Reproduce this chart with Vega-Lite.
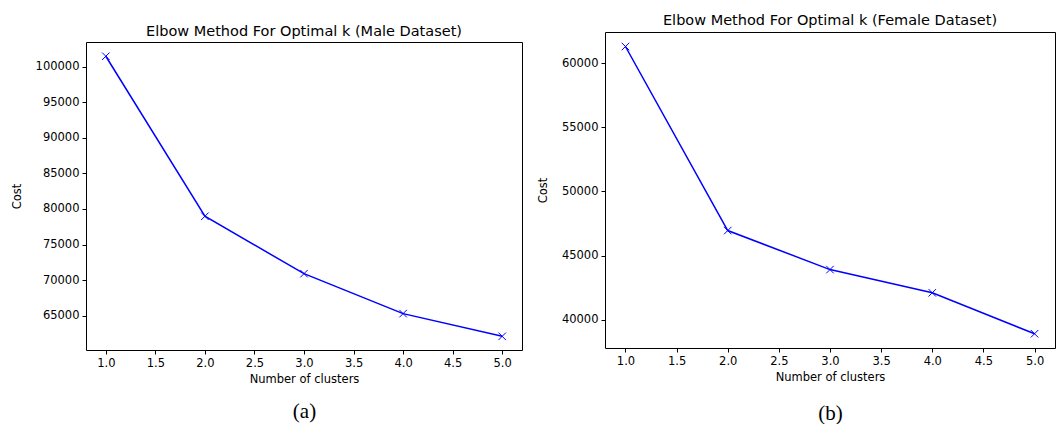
{
  "$schema": "https://vega.github.io/schema/vega-lite/v6.json",
  "padding": {"left": 11, "top": 12, "right": 0, "bottom": 0},
  "spacing": 14,
  "background": "white",
  "config": {
    "view": {"stroke": "#000000", "strokeWidth": 1},
    "axis": {
      "grid": false,
      "domain": false,
      "domainColor": "#000000",
      "domainWidth": 1,
      "labelFont": "DejaVu Sans",
      "labelFontSize": 11.5,
      "labelColor": "#000000",
      "titleFont": "DejaVu Sans",
      "titleFontSize": 11.5,
      "titleFontWeight": "normal",
      "titleColor": "#000000",
      "tickColor": "#000000",
      "tickSize": 4,
      "labelPadding": 3
    },
    "title": {
      "font": "DejaVu Sans",
      "fontSize": 14.5,
      "fontWeight": "normal",
      "color": "#000000",
      "anchor": "middle",
      "offset": 4
    }
  },
  "datasets": {
    "male": [
      {"k": 1, "cost": 101450},
      {"k": 2, "cost": 78980},
      {"k": 3, "cost": 70920},
      {"k": 4, "cost": 65310},
      {"k": 5, "cost": 62120}
    ],
    "female": [
      {"k": 1, "cost": 61290},
      {"k": 2, "cost": 46950},
      {"k": 3, "cost": 43910},
      {"k": 4, "cost": 42100},
      {"k": 5, "cost": 38910}
    ]
  },
  "hconcat": [
    {
      "width": 436,
      "height": 318,
      "view": {"stroke": null},
      "title": {"text": "Elbow Method For Optimal k (Male Dataset)", "offset": -7},
      "data": {"name": "male"},
      "layer": [
        {
          "mark": {"type": "line", "color": "#0000ff", "strokeWidth": 1.5},
          "encoding": {
            "x": {"field": "k", "type": "quantitative",
              "scale": {"domain": [0.8, 5.2], "nice": false, "zero": false},
              "axis": {"values": [1, 1.5, 2, 2.5, 3, 3.5, 4, 4.5, 5], "format": ".1f", "title": "Number of clusters", "titlePadding": 5, "domain": true}},
            "y": {"field": "cost", "type": "quantitative",
              "scale": {"domain": [60200, 103450], "range": [318, 10], "nice": false, "zero": false},
              "axis": {"values": [65000, 70000, 75000, 80000, 85000, 90000, 95000, 100000], "format": "d", "title": "Cost", "titlePadding": 13, "domain": true}}
          }
        },
        {
          "mark": {"type": "point", "shape": "M-1,-1L1,1M-1,1L1,-1", "filled": false, "stroke": "#0000ff", "color": "#0000ff", "size": 56, "strokeWidth": 1, "opacity": 1},
          "encoding": {
            "x": {"field": "k", "type": "quantitative",
              "axis": {"orient": "bottom", "title": "(a)", "labels": false, "ticks": false, "domain": false, "offset": 40, "titleFont": "Liberation Serif", "titleFontSize": 21, "titlePadding": 10}},
            "y": {"field": "cost", "type": "quantitative",
              "axis": {"orient": "right", "title": null, "labels": false, "ticks": false, "domain": true}}
          }
        },
        {
          "mark": {"type": "line", "strokeOpacity": 0},
          "encoding": {
            "x": {"field": "k", "type": "quantitative",
              "axis": {"orient": "top", "title": null, "labels": false, "ticks": false, "domain": true, "offset": -10}},
            "y": {"field": "cost", "type": "quantitative", "axis": null}
          }
        }
      ],
      "resolve": {"axis": {"x": "independent", "y": "independent"}}
    },
    {
      "width": 450,
      "height": 316,
      "title": {"text": "Elbow Method For Optimal k (Female Dataset)"},
      "data": {"name": "female"},
      "layer": [
        {
          "mark": {"type": "line", "color": "#0000ff", "strokeWidth": 1.5},
          "encoding": {
            "x": {"field": "k", "type": "quantitative",
              "scale": {"domain": [0.8, 5.2], "nice": false, "zero": false},
              "axis": {"values": [1, 1.5, 2, 2.5, 3, 3.5, 4, 4.5, 5], "format": ".1f", "title": "Number of clusters", "titlePadding": 5}},
            "y": {"field": "cost", "type": "quantitative",
              "scale": {"domain": [37800, 62420], "nice": false, "zero": false},
              "axis": {"values": [40000, 45000, 50000, 55000, 60000], "format": "d", "title": "Cost", "titlePadding": 13}}
          }
        },
        {
          "mark": {"type": "point", "shape": "M-1,-1L1,1M-1,1L1,-1", "filled": false, "stroke": "#0000ff", "color": "#0000ff", "size": 56, "strokeWidth": 1, "opacity": 1},
          "encoding": {
            "x": {"field": "k", "type": "quantitative",
              "axis": {"orient": "bottom", "title": "(b)", "labels": false, "ticks": false, "domain": false, "offset": 44, "titleFont": "Liberation Serif", "titleFontSize": 21, "titlePadding": 10}},
            "y": {"field": "cost", "type": "quantitative"}
          }
        }
      ],
      "resolve": {"axis": {"x": "independent"}}
    }
  ]
}
